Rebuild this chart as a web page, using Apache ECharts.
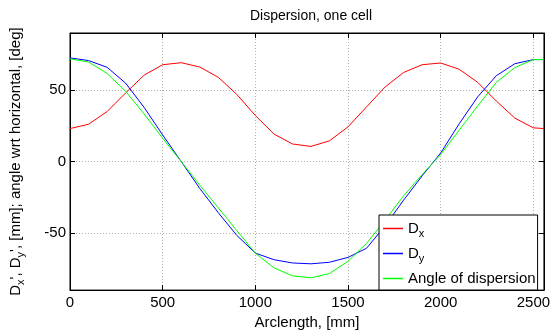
<!DOCTYPE html>
<html>
<head>
<meta charset="utf-8">
<script src="https://cdn.jsdelivr.net/npm/echarts@6/dist/echarts.min.js"></script>
<style>html,body{margin:0;padding:0;background:#fff;}#c{width:553px;height:335px;}</style>
</head>
<body>
<div id="c"></div>
<script>
const arclength = [0,100,200,300,400,500,600,700,800,900,1000,1100,1200,1300,1400,1500,1600,1700,1800,1900,2000,2100,2200,2300,2400,2500,2557];
const dxValues = [23.1,26.1,35,48,60.5,67.8,69.2,66.2,59,47,32.2,19.3,12.3,10.6,14.5,24.3,38.3,52.2,62.4,67.8,69,64.6,55.4,42.4,30.4,23.6,23.1];
const dyValues = [72.6,70.7,66,54.9,37.9,18.6,0,-18.8,-35.8,-51.7,-64.1,-68.7,-71,-71.6,-70.5,-67.1,-60.7,-45,-27,-10,6,26.5,45.4,60.1,68.5,71.4,71.4];
const angleValues = [71.9,69.7,61.7,49.2,33.3,16.3,0,-16.5,-32.4,-48.3,-64.1,-74.4,-80,-81.4,-78.4,-69.8,-57.3,-41,-24,-9,5,22,39,55.4,65.8,71.4,71.4];
const xTicks = [0,500,1000,1500,2000,2500];
const yTicks = [-50,0,50];

const FONT = 'Liberation Sans, Arial, Helvetica, sans-serif';
const pairs = v => arclength.map((x,i)=>[x,v[i]]);
const sub = {
  a:{fontSize:15,fontFamily:FONT,color:'#000'},
  s:{fontSize:11,fontFamily:FONT,color:'#000',padding:[10,0,0,0]}
};

const chart = echarts.init(document.getElementById('c'));
const axisCommonX = {
  type:'value', min:0, max:2557, interval:500,
  axisLine:{show:true,onZero:false,lineStyle:{color:'#000',width:1}},
  axisTick:{show:true,inside:true,length:5,lineStyle:{color:'#000'}}
};
const axisCommonY = {
  type:'value', min:-90, max:90, splitNumber:4,
  axisLine:{show:true,onZero:false,lineStyle:{color:'#000',width:1}},
  axisTick:{show:true,inside:true,length:5,lineStyle:{color:'#000'}}
};
chart.setOption({
  animation:false,
  backgroundColor:'#fff',
  title:{
    text:'Dispersion, one cell', left:306, top:4, textAlign:'center',
    textStyle:{fontSize:14,fontWeight:'normal',fontFamily:FONT,color:'#000'}
  },
  grid:{left:67,right:7,top:33,bottom:37,show:true,borderColor:'#000',borderWidth:1,backgroundColor:'#fff'},
  legend:{
    orient:'vertical', left:379, top:215,
    backgroundColor:'#fff', borderColor:'#000', borderWidth:1, borderRadius:0,
    padding:[6,2,4,4], itemGap:7, itemWidth:20, itemHeight:1.5, icon:'rect',
    formatter:function(n){
      if(n==='Dx') return '{a|D}{s|x}';
      if(n==='Dy') return '{a|D}{s|y}';
      return '{a|'+n+'}';
    },
    textStyle:{fontSize:15,fontFamily:FONT,color:'#000',rich:sub}
  },
  xAxis:[
    Object.assign({}, axisCommonX, {
      position:'bottom',
      name:'Arclength, [mm]', nameLocation:'middle', nameGap:20,
      nameTextStyle:{fontSize:15,fontFamily:FONT,color:'#000'},
      axisLabel:{show:true,margin:5,fontSize:15,fontFamily:FONT,color:'#000',
        formatter:function(v){return xTicks.indexOf(v)>=0?String(v):'';}},
      splitLine:{show:true,lineStyle:{color:'#b0b0b0',type:[1,2],width:1}}
    }),
    Object.assign({}, axisCommonX, {
      position:'top', axisLabel:{show:false}, splitLine:{show:false}
    })
  ],
  yAxis:[
    Object.assign({}, axisCommonY, {
      position:'left',
      name:'{a|D}{s|x}{a|\', D}{s|y}{a|\', [mm]; angle wrt horizontal, [deg]}',
      nameLocation:'middle', nameGap:44,
      nameTextStyle:{fontSize:15,fontFamily:FONT,color:'#000',rich:sub},
      axisLabel:{show:true,margin:4,fontSize:15,fontFamily:FONT,color:'#000',
        formatter:function(v){return yTicks.indexOf(v)>=0?String(v):'';}},
      splitLine:{show:true,lineStyle:{color:'#b0b0b0',type:[1,2],width:1}}
    }),
    Object.assign({}, axisCommonY, {
      position:'right', axisLabel:{show:false}, splitLine:{show:false}
    })
  ],
  series:[
    {name:'Dx',type:'line',data:pairs(dxValues),symbol:'none',lineStyle:{color:'#ff0000',width:1},itemStyle:{color:'#ff0000'}},
    {name:'Dy',type:'line',data:pairs(dyValues),symbol:'none',lineStyle:{color:'#0000ff',width:1},itemStyle:{color:'#0000ff'}},
    {name:'Angle of dispersion',type:'line',data:pairs(angleValues),symbol:'none',lineStyle:{color:'#00ff00',width:1},itemStyle:{color:'#00ff00'}}
  ]
});
</script>
</body>
</html>
